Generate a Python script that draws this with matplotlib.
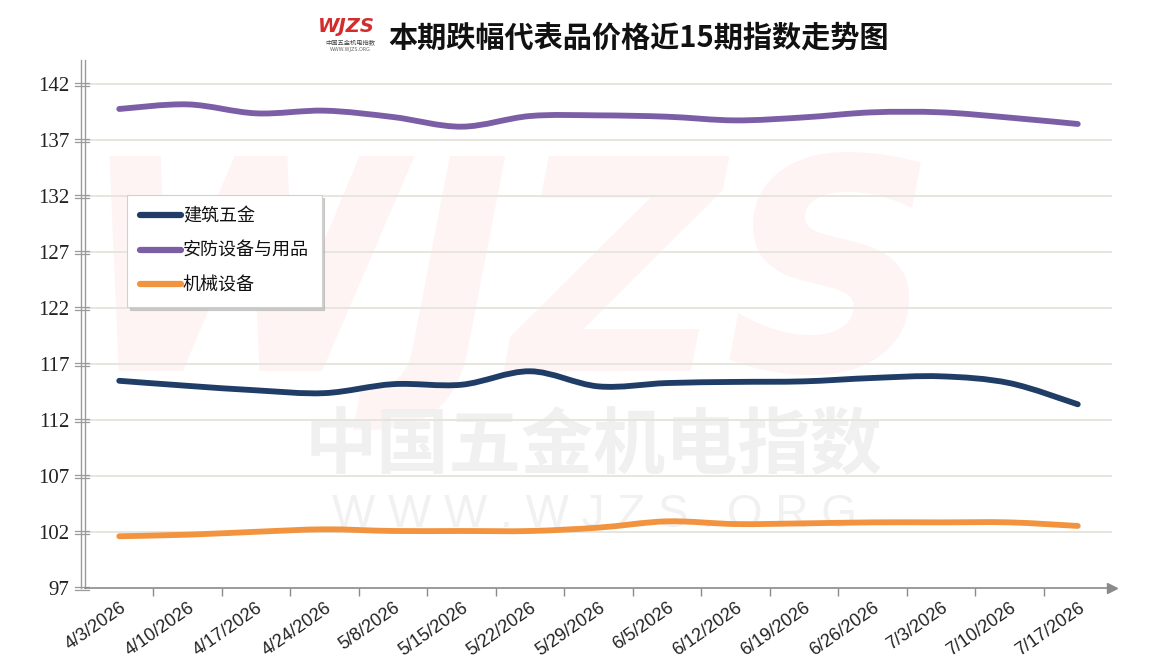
import numpy as np
import matplotlib
matplotlib.use('Agg')
import matplotlib.pyplot as plt
from matplotlib.path import Path
from matplotlib.patches import PathPatch
from matplotlib.lines import Line2D
from matplotlib.transforms import blended_transform_factory, ScaledTranslation

# ---------------- data ----------------
dates = ['4/3/2026', '4/10/2026', '4/17/2026', '4/24/2026', '5/8/2026',
         '5/15/2026', '5/22/2026', '5/29/2026', '6/5/2026', '6/12/2026',
         '6/19/2026', '6/26/2026', '7/3/2026', '7/10/2026', '7/17/2026']
hardware = [115.5, 115.05, 114.65, 114.4, 115.2, 115.15, 116.35, 115.0,
            115.3, 115.4, 115.45, 115.75, 115.9, 115.3, 113.4]
security = [139.77, 140.18, 139.38, 139.62, 139.05, 138.19, 139.14, 139.2,
            139.08, 138.75, 139.02, 139.47, 139.47, 139.0, 138.43]
machinery = [101.62, 101.76, 102.02, 102.24, 102.09, 102.09, 102.09, 102.39,
             102.95, 102.71, 102.77, 102.86, 102.86, 102.86, 102.54]
series_names = ['建筑五金', '安防设备与用品', '机械设备']
series_values = [hardware, security, machinery]
series_colors = ['#1F3D66', '#7B5EA6', '#F2943F']
yticks = [97, 102, 107, 112, 117, 122, 127, 132, 137, 142]
title = '本期跌幅代表品价格近15期指数走势图'

CJK = ['Noto Sans CJK SC', 'DejaVu Sans']
plt.rcParams['font.family'] = CJK

W, H = 1152, 668
fig = plt.figure(figsize=(W / 100, H / 100), dpi=100)
fig.patch.set_facecolor('white')

ax_l, ax_r, ax_b, ax_t = 85, 1112, 588, 60
ax = fig.add_axes([ax_l / W, (H - ax_b) / H, (ax_r - ax_l) / W, (ax_b - ax_t) / H])
ax.set_facecolor('white')

n = len(dates)
x = np.arange(n)
ax.set_xlim(-0.5, n - 0.5)
ax.set_ylim(97, 97 + (ax_b - ax_t) / 11.2)


def fig_px(px, py):
    return (px / W, 1 - py / H)


# ---------------- watermark ----------------
ax.text(*fig_px(508, 290), 'WJZS', transform=fig.transFigure, fontsize=212,
        family='DejaVu Sans', weight='bold', style='italic', color='#fef4f4',
        ha='center', va='center', zorder=0.1, clip_on=False)
ax.text(*fig_px(594, 447), '中国五金机电指数', transform=fig.transFigure,
        fontsize=52, weight='bold', color='#f0f0f0', ha='center', va='center',
        zorder=0.2, clip_on=False)
ax.text(*fig_px(594, 515), 'W W W . W J Z S . O R G', transform=fig.transFigure,
        fontsize=33, family='Liberation Sans', color='#f1f1f1', ha='center',
        va='center', zorder=0.2, clip_on=False)

# ---------------- grid & axes ----------------
ax.set_yticks(yticks)
ax.set_yticklabels([str(v) for v in yticks], family='Liberation Serif', fontsize=15,
                   color='#222222')
ax.tick_params(axis='y', length=0, pad=11)
for yv in yticks[1:]:
    ax.axhline(yv, color='#e4e4dc', lw=1.3, zorder=0.5)

ax.set_xticks(x)
ax.set_xticklabels(dates, rotation=35, ha='right', rotation_mode='anchor',
                   family='Liberation Sans', fontsize=13, color='#222222')
ax.tick_params(axis='x', length=0, pad=8)
ax.set_xticks(np.arange(0.5, n - 0.5, 1.0), minor=True)
ax.tick_params(axis='x', which='minor', length=6, width=1, color='#8a8a8a',
               direction='out')

for s in ['top', 'right']:
    ax.spines[s].set_visible(False)
ax.spines['bottom'].set_color('#8a8a8a')
ax.spines['bottom'].set_linewidth(1.2)
ax.spines['left'].set_color('#9a9a9a')
ax.spines['left'].set_linewidth(1.0)

# second line of the double y axis
tr2 = ax.transAxes + ScaledTranslation(-4 / 100, 0, fig.dpi_scale_trans)
ax.add_line(Line2D([0, 0], [0, 1], transform=tr2, color='#9a9a9a', lw=1.0,
                   clip_on=False))
# double tick marks on the y axis
for yv in yticks:
    for dy in (-1.5, 1.5):
        trt = blended_transform_factory(ax.transAxes, ax.transData) + \
            ScaledTranslation(0, dy / 100, fig.dpi_scale_trans)
        ax.add_line(Line2D([-0.010, 0.004], [yv, yv], transform=trt,
                           color='#9a9a9a', lw=0.9, clip_on=False))

# arrow at the end of the x axis
ax.plot([1.0], [0.0], marker='>', markersize=7, color='#8a8a8a',
        transform=ax.transAxes, clip_on=False, zorder=3)


# ---------------- smooth lines ----------------
def smooth_path(xs, ys):
    P = np.column_stack([xs, ys]).astype(float)
    m = len(P)
    verts = [P[0]]
    codes = [Path.MOVETO]
    for i in range(m - 1):
        p0 = P[i - 1] if i > 0 else P[i]
        p1 = P[i]
        p2 = P[i + 1]
        p3 = P[i + 2] if i + 2 < m else P[i + 1]
        c1 = p1 + (p2 - p0) / 6.0
        c2 = p2 - (p3 - p1) / 6.0
        verts += [c1, c2, p2]
        codes += [Path.CURVE4] * 3
    return Path(verts, codes)


for vals, col in zip(series_values, series_colors):
    patch = PathPatch(smooth_path(x, vals), fill=False, edgecolor=col, lw=4.2,
                      capstyle='round', joinstyle='round', zorder=3)
    ax.add_patch(patch)

# ---------------- legend ----------------
handles = [Line2D([0], [0], color=c, lw=4.5, solid_capstyle='round')
           for c in series_colors]
leg = fig.legend(handles, series_names, loc='upper left',
                 bbox_to_anchor=fig_px(127, 195), fontsize=13,
                 handlelength=2.3, handletextpad=0.1, labelspacing=0.9,
                 borderpad=0.7, borderaxespad=0, frameon=True, fancybox=False,
                 edgecolor='#d0d0d0',
                 shadow={'color': '#b0b0b0', 'alpha': 0.6})
leg.get_frame().set_linewidth(0.8)
for t in leg.get_texts():
    t.set_color('#111111')

# ---------------- title & logo ----------------
fig.text(*fig_px(639, 38), title, fontsize=21, weight='bold', color='#111111',
         ha='center', va='center')
fig.text(*fig_px(346, 27), 'WJZS', fontsize=14, family='DejaVu Sans',
         weight='bold', style='italic', color='#d42b2b', ha='center', va='center')
fig.text(*fig_px(350, 43), '中国五金机电指数', fontsize=4.5, color='#444444',
         ha='center', va='center')
fig.text(*fig_px(350, 50), 'WWW.WJZS.ORG', fontsize=3.5, family='DejaVu Sans',
         color='#666666', ha='center', va='center')

fig.savefig('out.png', dpi=100, facecolor='white')
